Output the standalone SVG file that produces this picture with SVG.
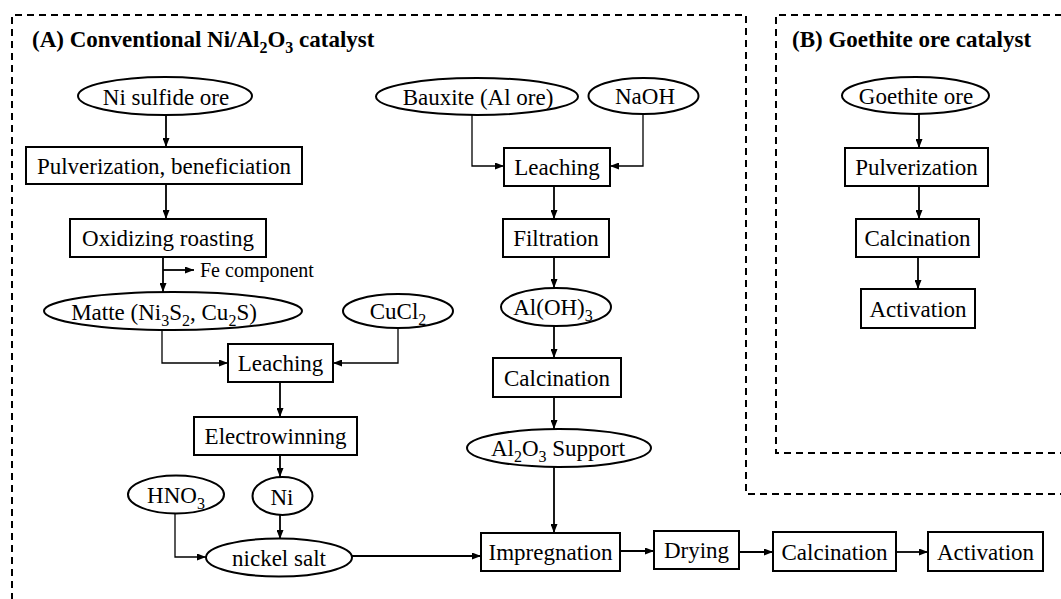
<svg xmlns="http://www.w3.org/2000/svg" width="1061" height="599" viewBox="0 0 1061 599">
<style>
  .bg{fill:#fff}
  .frame{fill:none;stroke:#000;stroke-width:2;stroke-dasharray:7 5}
  .box{fill:#fff;stroke:#000;stroke-width:2}
  .t{font-family:"Liberation Serif","Times New Roman",serif;font-size:23px;fill:#000;text-anchor:middle}
  .title{font-family:"Liberation Serif","Times New Roman",serif;font-size:23px;font-weight:bold;fill:#000}
  .small{font-family:"Liberation Serif","Times New Roman",serif;font-size:20px;fill:#000}
  .c{fill:none;stroke:#000;stroke-width:1.8;marker-end:url(#ah)}
  .cl{fill:none;stroke:#000;stroke-width:1.3;marker-end:url(#ah)}
</style>
<defs>
  <marker id="ah" markerUnits="userSpaceOnUse" markerWidth="9" markerHeight="7" refX="9" refY="3.5" orient="auto">
    <path d="M0,0 L9,3.5 L0,7 z" fill="#000"/>
  </marker>
</defs>
<rect class="bg" x="0" y="0" width="1061" height="599"/>

<g id="frames">
  <path class="frame" d="M12,600 V15 H746 V494 H1062"/>
  <path class="frame" d="M1062,15 H776 V453 H1062"/>
  <text class="title" x="32" y="47">(A) Conventional Ni/Al<tspan font-size="16" dy="6">2</tspan><tspan dy="-6">O</tspan><tspan font-size="16" dy="6">3</tspan><tspan dy="-6"> catalyst</tspan></text>
  <text class="title" x="792" y="47">(B) Goethite ore catalyst</text>
</g>

<g id="connectors">
  <path class="c" d="M166,115 V147"/>
  <path class="c" d="M166,184 V219"/>
  <path class="c" d="M163,257 V292"/>
  <path class="c" d="M163,270 H194"/>
  <path class="cl" d="M162,330 V363 H228"/>
  <path class="cl" d="M398,328 V363 H333"/>
  <path class="c" d="M280,382 V417"/>
  <path class="c" d="M280,455 V477"/>
  <path class="c" d="M280,515 V539"/>
  <path class="cl" d="M175,514 V557 H206"/>
  <path class="c" d="M352,556 H481"/>
  <path class="cl" d="M472,115 V166 H504"/>
  <path class="cl" d="M643,114 V166 H610"/>
  <path class="c" d="M554,186 V219"/>
  <path class="c" d="M554,257 V288"/>
  <path class="c" d="M554,326 V358"/>
  <path class="c" d="M554,397 V429"/>
  <path class="c" d="M554,467 V533"/>
  <path class="c" d="M620,551 H654"/>
  <path class="c" d="M739,552 H773"/>
  <path class="c" d="M896,552 H928"/>
  <path class="c" d="M919,114 V148"/>
  <path class="c" d="M919,186 V219"/>
  <path class="c" d="M918,257 V289"/>
</g>

<g id="n-ni-sulfide"><ellipse class="box" cx="165" cy="96" rx="87" ry="19"/><text class="t" x="166" y="105">Ni sulfide ore</text></g>
<g id="n-pulv-benef"><rect class="box" x="26" y="147" width="276" height="37"/><text class="t" x="164" y="174">Pulverization, beneficiation</text></g>
<g id="n-oxid"><rect class="box" x="70" y="219" width="196" height="38"/><text class="t" x="168" y="246">Oxidizing roasting</text></g>
<g id="n-fe"><text class="small" x="200" y="277">Fe component</text></g>
<g id="n-matte"><ellipse class="box" cx="173" cy="311" rx="129" ry="19"/><text class="t" x="164" y="320">Matte (Ni<tspan font-size="16" dy="6">3</tspan><tspan dy="-6">S</tspan><tspan font-size="16" dy="6">2</tspan><tspan dy="-6">, Cu</tspan><tspan font-size="16" dy="6">2</tspan><tspan dy="-6">S)</tspan></text></g>
<g id="n-cucl2"><ellipse class="box" cx="398" cy="311" rx="55" ry="17"/><text class="t" x="398" y="319">CuCl<tspan font-size="16" dy="6">2</tspan></text></g>
<g id="n-leach-a"><rect class="box" x="228" y="344" width="105" height="38"/><text class="t" x="280.5" y="371">Leaching</text></g>
<g id="n-electro"><rect class="box" x="194" y="417" width="163" height="38"/><text class="t" x="275.5" y="444">Electrowinning</text></g>
<g id="n-hno3"><ellipse class="box" cx="176" cy="494.5" rx="48" ry="19"/><text class="t" x="176" y="503">HNO<tspan font-size="16" dy="6">3</tspan></text></g>
<g id="n-ni"><ellipse class="box" cx="282.5" cy="496" rx="30" ry="19"/><text class="t" x="282" y="505">Ni</text></g>
<g id="n-nickel-salt"><ellipse class="box" cx="279" cy="557.5" rx="73" ry="19"/><text class="t" x="279" y="566">nickel salt</text></g>

<g id="n-bauxite"><ellipse class="box" cx="477" cy="96.5" rx="101" ry="18.5"/><text class="t" x="478" y="105">Bauxite (Al ore)</text></g>
<g id="n-naoh"><ellipse class="box" cx="643.5" cy="96" rx="55" ry="18"/><text class="t" x="645" y="104">NaOH</text></g>
<g id="n-leach-b"><rect class="box" x="504" y="148" width="106" height="38"/><text class="t" x="557" y="175">Leaching</text></g>
<g id="n-filtration"><rect class="box" x="503" y="219" width="106" height="38"/><text class="t" x="556" y="246">Filtration</text></g>
<g id="n-aloh3"><ellipse class="box" cx="556" cy="307" rx="55" ry="19"/><text class="t" x="553" y="315">Al(OH)<tspan font-size="16" dy="6">3</tspan></text></g>
<g id="n-calc-a"><rect class="box" x="493" y="358" width="128" height="39"/><text class="t" x="557" y="386">Calcination</text></g>
<g id="n-al2o3"><ellipse class="box" cx="559" cy="448" rx="92" ry="19"/><text class="t" x="558" y="456">Al<tspan font-size="16" dy="6">2</tspan><tspan dy="-6">O</tspan><tspan font-size="16" dy="6">3</tspan><tspan dy="-6"> Support</tspan></text></g>

<g id="n-impreg"><rect class="box" x="481" y="533" width="139" height="38"/><text class="t" x="550.5" y="560">Impregnation</text></g>
<g id="n-drying"><rect class="box" x="654" y="531" width="85" height="38"/><text class="t" x="696.5" y="558">Drying</text></g>
<g id="n-calc-final"><rect class="box" x="773" y="532" width="123" height="39"/><text class="t" x="834.5" y="560">Calcination</text></g>
<g id="n-activ-final"><rect class="box" x="928" y="532" width="115" height="39"/><text class="t" x="985.5" y="560">Activation</text></g>

<g id="n-goethite"><ellipse class="box" cx="915.5" cy="95.5" rx="73.5" ry="18.5"/><text class="t" x="916" y="104">Goethite ore</text></g>
<g id="n-pulv-b"><rect class="box" x="845" y="148" width="143" height="38"/><text class="t" x="916.5" y="175">Pulverization</text></g>
<g id="n-calc-b"><rect class="box" x="856" y="219" width="123" height="38"/><text class="t" x="917.5" y="246">Calcination</text></g>
<g id="n-activ-b"><rect class="box" x="861" y="289" width="114" height="39"/><text class="t" x="918" y="317">Activation</text></g>
</svg>
